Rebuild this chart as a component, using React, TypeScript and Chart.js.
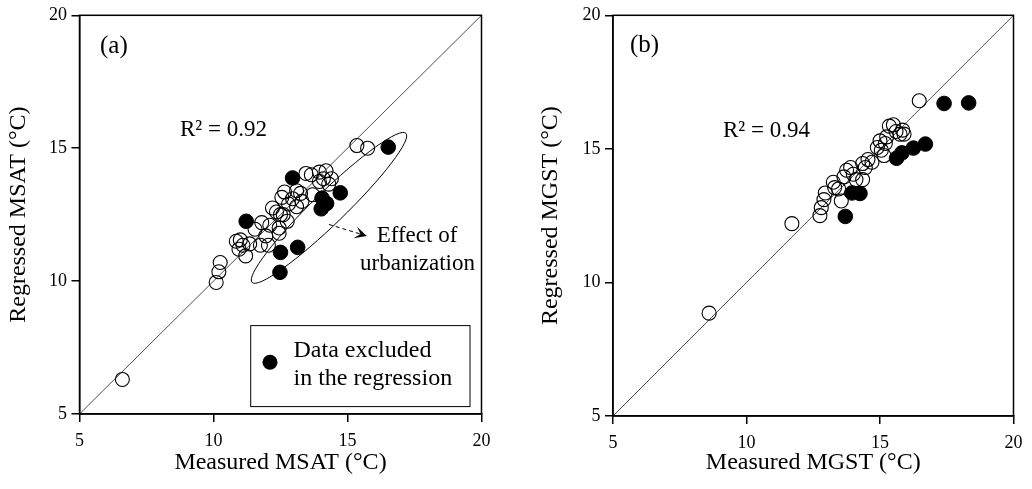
import React, { useEffect, useRef } from "react";
import { Chart, registerables } from "chart.js";

Chart.register(...registerables);

// ---------- data ----------
const AXIS_MIN = 5;
const AXIS_MAX = 20;
const AXIS_STEP = 5;

// Panel (a): MSAT (measured, regressed)
const msatIncludedMeasured = [
  6.6, 10.1, 10.2, 10.25, 10.85, 10.95, 11.1, 11.2, 11.35, 11.55, 11.75, 11.8, 11.95, 12.05,
  12.1, 12.2, 12.35, 12.45, 12.45, 12.6, 12.55, 12.65, 12.75, 12.8, 12.95, 13.1, 13.1, 13.25,
  13.3, 13.45, 13.7, 13.65, 13.95, 13.95, 14.1, 14.2, 14.3, 14.4, 15.35, 15.75, 12.5, 11.0,
];
const msatIncludedRegressed = [
  6.3, 9.95, 10.35, 10.7, 11.5, 11.2, 11.35, 10.95, 11.4, 11.95, 11.35, 12.2, 11.7, 11.35,
  12.1, 12.75, 12.6, 12.0, 11.8, 12.5, 13.15, 13.35, 12.25, 12.9, 13.1, 12.8, 13.4, 13.3,
  13.0, 14.05, 13.25, 14.0, 13.75, 14.1, 13.85, 14.15, 13.65, 13.85, 15.1, 15.0, 12.5, 11.55,
];
const msatExcludedMeasured = [11.22, 12.95, 14.73, 14.05, 14.22, 14.02, 12.5, 13.14, 12.48, 16.52];
const msatExcludedRegressed = [12.25, 13.88, 13.32, 13.12, 12.92, 12.72, 11.08, 11.27, 10.33, 15.04];

// Panel (b): MGST (measured, regressed)
const mgstIncludedMeasured = [
  8.6, 11.7, 16.47, 12.75, 12.8, 12.9, 12.95, 13.25, 13.3, 13.55, 13.65, 13.75, 13.9, 14.0,
  14.1, 14.35, 14.35, 14.55, 14.45, 14.7, 14.9, 15.0, 15.05, 15.15, 15.25, 15.35, 15.5, 15.6,
  15.75, 15.85, 15.9, 15.2, 13.45,
];
const mgstIncludedRegressed = [
  8.85, 12.2, 16.8, 12.5, 12.8, 13.1, 13.35, 13.75, 13.55, 13.05, 13.95, 14.2, 14.3, 14.05,
  13.85, 13.85, 14.45, 14.6, 14.3, 14.5, 15.05, 15.3, 14.95, 14.75, 15.45, 15.85, 15.9, 15.65,
  15.55, 15.7, 15.55, 15.2, 13.5,
];
const mgstExcludedMeasured = [17.4, 18.32, 16.7, 16.25, 15.82, 15.62, 14.25, 13.95, 13.7];
const mgstExcludedRegressed = [16.7, 16.72, 15.18, 15.03, 14.85, 14.65, 13.33, 13.35, 12.47];

// 1:1 line
const oneToOne = [AXIS_MIN, AXIS_MAX];

// Panel (a) annotations (data coordinates)
const urbanEllipseTipLow = [11.44, 9.95];
const urbanEllipseTipHigh = [17.18, 15.56];
const urbanArrowFrom = [14.31, 12.13];
const urbanArrowTo = [15.72, 11.7];

const TEXT_A_LABEL = "(a)";
const TEXT_B_LABEL = "(b)";
const TEXT_A_R2 = "R\u00B2 = 0.92";
const TEXT_B_R2 = "R\u00B2 = 0.94";
const TEXT_EFFECT = ["Effect of", "urbanization"];
const TEXT_LEGEND = ["Data excluded", "in the regression"];

const SERIF = "'Liberation Serif', 'Times New Roman', serif";

function pts(xs: number[], ys: number[]) {
  return xs.map((x, i) => ({ x, y: ys[i] }));
}

type PanelCfg = {
  xTitle: string;
  yTitle: string;
  included: { x: number; y: number }[];
  excluded: { x: number; y: number }[];
  padding: { left: number; right: number; top: number; bottom: number };
  yWidth: number;
  xHeight: number;
  yTitlePad: number;
  label: string;
  labelPos: [number, number];
  r2: string;
  r2Pos: [number, number];
  extras: boolean;
};

function makePlugin(cfg: PanelCfg) {
  return {
    id: "panelDecor",
    afterDatasetsDraw(chart: any) {
      const ctx = chart.ctx as CanvasRenderingContext2D;
      const ca = chart.chartArea;
      const xs = chart.scales.x;
      const ys = chart.scales.y;
      ctx.save();
      // frame
      ctx.strokeStyle = "#000";
      ctx.lineWidth = 1.5;
      ctx.strokeRect(ca.left, ca.top, ca.right - ca.left, ca.bottom - ca.top);

      ctx.fillStyle = "#000";
      ctx.textBaseline = "middle";
      ctx.textAlign = "left";
      ctx.font = `25px ${SERIF}`;
      ctx.fillText(cfg.label, ca.left + cfg.labelPos[0], ca.top + cfg.labelPos[1]);
      ctx.font = `23px ${SERIF}`;
      ctx.fillText(cfg.r2, ca.left + cfg.r2Pos[0], ca.top + cfg.r2Pos[1]);

      if (cfg.extras) {
        // ellipse
        const x1 = xs.getPixelForValue(urbanEllipseTipLow[0]);
        const y1 = ys.getPixelForValue(urbanEllipseTipLow[1]);
        const x2 = xs.getPixelForValue(urbanEllipseTipHigh[0]);
        const y2 = ys.getPixelForValue(urbanEllipseTipHigh[1]);
        const cx = (x1 + x2) / 2;
        const cy = (y1 + y2) / 2;
        const a = Math.hypot(x2 - x1, y2 - y1) / 2;
        const ang = Math.atan2(y2 - y1, x2 - x1);
        ctx.beginPath();
        ctx.lineWidth = 1;
        ctx.ellipse(cx, cy, a, 16, ang, 0, Math.PI * 2);
        ctx.stroke();

        // arrow
        const ax1 = xs.getPixelForValue(urbanArrowFrom[0]);
        const ay1 = ys.getPixelForValue(urbanArrowFrom[1]);
        const ax2 = xs.getPixelForValue(urbanArrowTo[0]);
        const ay2 = ys.getPixelForValue(urbanArrowTo[1]);
        const aa = Math.atan2(ay2 - ay1, ax2 - ax1);
        ctx.beginPath();
        ctx.setLineDash([4, 3]);
        ctx.lineWidth = 1;
        ctx.moveTo(ax1, ay1);
        ctx.lineTo(ax2 - 6 * Math.cos(aa), ay2 - 6 * Math.sin(aa));
        ctx.stroke();
        ctx.setLineDash([]);
        ctx.beginPath();
        const L = 12;
        const W = 6;
        const bx = ax2 - L * Math.cos(aa);
        const by = ay2 - L * Math.sin(aa);
        const nx = -Math.sin(aa);
        const ny = Math.cos(aa);
        const mx = ax2 - 0.55 * L * Math.cos(aa);
        const my = ay2 - 0.55 * L * Math.sin(aa);
        ctx.moveTo(ax2, ay2);
        ctx.lineTo(bx + nx * W, by + ny * W);
        ctx.lineTo(mx, my);
        ctx.lineTo(bx - nx * W, by - ny * W);
        ctx.closePath();
        ctx.fill();

        // effect text
        ctx.font = `23px ${SERIF}`;
        ctx.textAlign = "center";
        ctx.fillText(TEXT_EFFECT[0], ca.left + 337.5, ca.top + 220.3);
        ctx.fillText(TEXT_EFFECT[1], ca.left + 338, ca.top + 248.7);

        // legend box
        ctx.lineWidth = 1;
        ctx.strokeRect(ca.left + 171.2, ca.top + 310.3, 219.3, 81);
        ctx.beginPath();
        ctx.arc(ca.left + 190.5, ca.top + 347, 7.5, 0, Math.PI * 2);
        ctx.fill();
        ctx.textAlign = "left";
        ctx.textBaseline = "alphabetic";
        ctx.font = `24px ${SERIF}`;
        ctx.fillText(TEXT_LEGEND[0], ca.left + 214, ca.top + 342);
        ctx.fillText(TEXT_LEGEND[1], ca.left + 214, ca.top + 370);
      }
      ctx.restore();
    },
  };
}

function buildScale(title: string, isY: boolean, cfg: PanelCfg) {
  return {
    type: "linear",
    min: AXIS_MIN,
    max: AXIS_MAX,
    ticks: {
      stepSize: AXIS_STEP,
      color: "#000",
      font: { family: SERIF, size: 18 },
      padding: isY ? 4.5 : 8,
    },
    grid: {
      drawOnChartArea: false,
      drawTicks: true,
      tickLength: 8,
      color: "#000",
      lineWidth: 1.5,
    },
    border: { display: true, color: "#000", width: 1.5 },
    title: {
      display: true,
      text: title,
      color: "#000",
      font: { family: SERIF, size: 24 },
      padding: isY ? { top: cfg.yTitlePad, bottom: 0 } : { top: 0, bottom: 11.6 },
    },
    afterFit(s: any) {
      if (isY) s.width = cfg.yWidth;
      else s.height = cfg.xHeight;
    },
  };
}

function Panel({ cfg }: { cfg: PanelCfg }) {
  const ref = useRef<HTMLCanvasElement | null>(null);
  useEffect(() => {
    if (!ref.current) return;
    const chart = new Chart(ref.current, {
      type: "scatter",
      data: {
        datasets: [
          {
            label: "excluded",
            data: cfg.excluded,
            pointRadius: 7.3,
            pointBackgroundColor: "#000",
            pointBorderColor: "#000",
            pointBorderWidth: 1,
          },
          {
            label: "included",
            data: cfg.included,
            pointRadius: 7,
            pointBackgroundColor: "rgba(0,0,0,0)",
            pointBorderColor: "#000",
            pointBorderWidth: 1.1,
          },
          {
            type: "line",
            label: "1:1",
            data: pts(oneToOne, oneToOne),
            borderColor: "#222",
            borderWidth: 0.8,
            pointRadius: 0,
            showLine: true,
            fill: false,
          } as any,
        ],
      },
      options: {
        responsive: false,
        animation: false,
        devicePixelRatio: 1,
        layout: { padding: cfg.padding },
        plugins: { legend: { display: false }, tooltip: { enabled: false } },
        scales: {
          x: buildScale(cfg.xTitle, false, cfg) as any,
          y: buildScale(cfg.yTitle, true, cfg) as any,
        },
      },
      plugins: [makePlugin(cfg)],
    });
    return () => chart.destroy();
  }, []);
  return <canvas ref={ref} width={516} height={489} style={{ display: "block" }} />;
}

const panelA: PanelCfg = {
  xTitle: "Measured MSAT (\u00B0C)",
  yTitle: "Regressed MSAT (\u00B0C)",
  included: pts(msatIncludedMeasured, msatIncludedRegressed),
  excluded: pts(msatExcludedMeasured, msatExcludedRegressed),
  padding: { left: 0, right: 34.5, top: 13, bottom: 0 },
  yWidth: 79.5,
  xHeight: 75,
  yTitlePad: 4.6,
  label: TEXT_A_LABEL,
  labelPos: [20.5, 31],
  r2: TEXT_A_R2,
  r2Pos: [100.5, 115],
  extras: true,
};

const panelB: PanelCfg = {
  xTitle: "Measured MGST (\u00B0C)",
  yTitle: "Regressed MGST (\u00B0C)",
  included: pts(mgstIncludedMeasured, mgstIncludedRegressed),
  excluded: pts(mgstExcludedMeasured, mgstExcludedRegressed),
  padding: { left: 0, right: 18.5, top: 14, bottom: 0 },
  yWidth: 97,
  xHeight: 73,
  yTitlePad: 20.6,
  label: TEXT_B_LABEL,
  labelPos: [17, 30],
  r2: TEXT_B_R2,
  r2Pos: [110, 116],
  extras: false,
};

export default function App() {
  return (
    <div
      style={{
        position: "absolute",
        left: 0,
        top: 0,
        width: 1032,
        height: 489,
        background: "#fff",
        display: "flex",
      }}
    >
      <Panel cfg={panelA} />
      <Panel cfg={panelB} />
    </div>
  );
}
